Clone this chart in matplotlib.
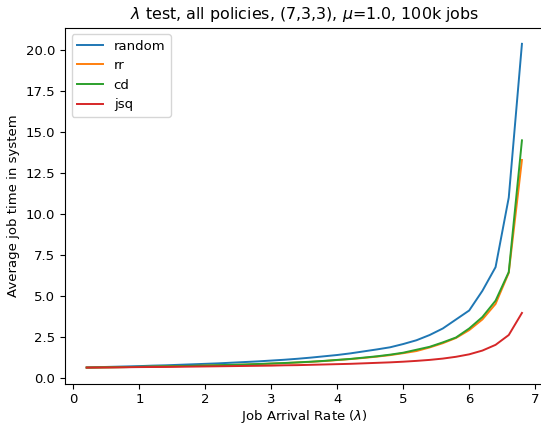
import numpy as np
import matplotlib
matplotlib.use("Agg")
import matplotlib.pyplot as plt

plt.rcParams['font.size'] = 9.5

# arrival rates 0.2 .. 6.8
lam = [0.2, 0.4, 0.6, 0.8, 1.0, 1.2, 1.4, 1.6, 1.8, 2.0, 2.2, 2.4, 2.6, 2.8, 3.0, 3.2, 3.4,
       3.6, 3.8, 4.0, 4.2, 4.4, 4.6, 4.8, 5.0, 5.2, 5.4, 5.6, 5.8, 6.0, 6.2, 6.4, 6.6, 6.8]

random_t = [0.62, 0.64, 0.66, 0.68, 0.70, 0.73, 0.75, 0.78, 0.81, 0.84, 0.87, 0.91, 0.95, 0.99,
            1.04, 1.09, 1.15, 1.22, 1.30, 1.38, 1.48, 1.60, 1.72, 1.85, 2.05, 2.28, 2.60, 3.00,
            3.55, 4.10, 5.30, 6.75, 11.0, 20.4]
rr_t = [0.61, 0.62, 0.63, 0.64, 0.65, 0.67, 0.68, 0.70, 0.71, 0.73, 0.75, 0.77, 0.79, 0.82,
        0.85, 0.88, 0.92, 0.96, 1.01, 1.07, 1.13, 1.20, 1.28, 1.37, 1.49, 1.62, 1.84, 2.10,
        2.42, 2.90, 3.55, 4.50, 6.40, 13.3]
cd_t = [0.61, 0.62, 0.63, 0.64, 0.66, 0.67, 0.69, 0.70, 0.72, 0.74, 0.76, 0.78, 0.80, 0.83,
        0.86, 0.89, 0.93, 0.97, 1.02, 1.08, 1.14, 1.22, 1.30, 1.40, 1.52, 1.70, 1.88, 2.15,
        2.45, 3.00, 3.70, 4.70, 6.45, 14.5]
jsq_t = [0.61, 0.615, 0.62, 0.63, 0.64, 0.645, 0.65, 0.66, 0.67, 0.68, 0.69, 0.70, 0.71, 0.72,
         0.73, 0.75, 0.76, 0.78, 0.80, 0.82, 0.84, 0.87, 0.90, 0.93, 0.97, 1.02, 1.08, 1.16,
         1.27, 1.42, 1.65, 2.00, 2.60, 3.95]

fig = plt.figure(figsize=(5.41, 4.25), dpi=100)
# axes placed to match the (cropped) reference layout
ax = fig.add_axes([0.120, 0.097, 0.885, 0.838])
ax.plot(lam, random_t, label='random', lw=1.4)
ax.plot(lam, rr_t, label='rr', lw=1.4)
ax.plot(lam, cd_t, label='cd', lw=1.4)
ax.plot(lam, jsq_t, label='jsq', lw=1.4)
ax.set_title(r'$\lambda$ test, all policies, (7,3,3), $\mu$=1.0, 100k jobs')
ax.set_xlabel(r'Job Arrival Rate ($\lambda$)', labelpad=1)
ax.set_ylabel('Average job time in system')
ax.legend(loc='upper left')
fig.savefig('out.png', dpi=100)
